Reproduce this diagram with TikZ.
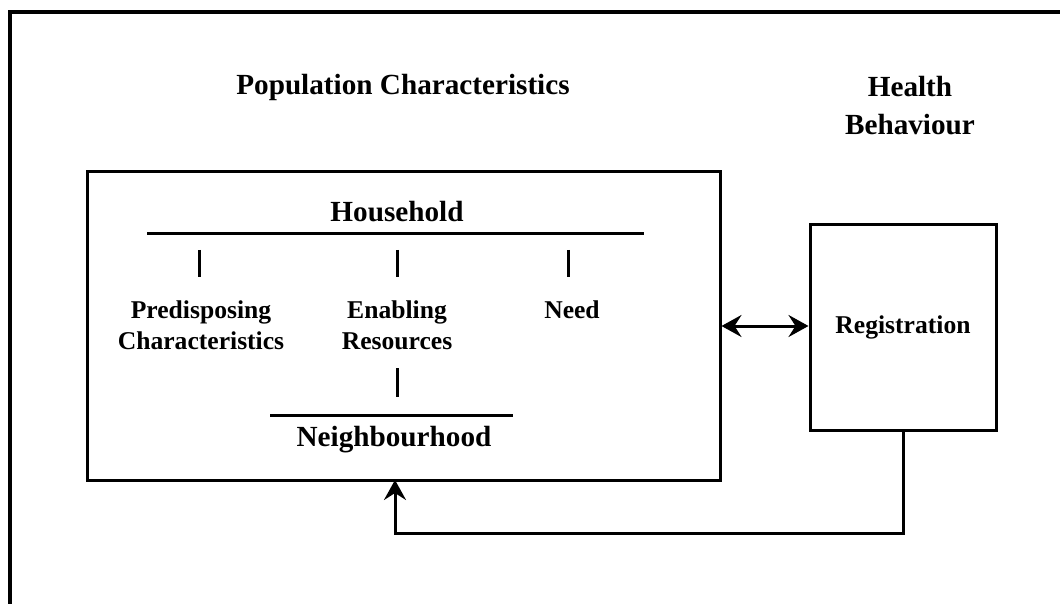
\documentclass[tikz,border=0pt]{standalone}
\usepackage{fontspec}
\setmainfont{Liberation Serif}
\usetikzlibrary{arrows.meta}
\begin{document}
\begin{tikzpicture}[x=0.5pt,y=-0.5pt,
  head/.style={font=\bfseries\fontsize{14.6}{17}\selectfont, inner sep=0pt},
  label/.style={font=\bfseries\fontsize{12.8}{15.5}\selectfont, align=center, inner sep=0pt},
  box/.style={draw, line width=1.5pt, rectangle, inner sep=0pt},
  rule/.style={line width=1.5pt},
  tip/.style={Stealth[length=10pt,width=11pt,inset=3.5pt]},
  arr/.style={line width=1.5pt, arrows={-Stealth[length=10pt,width=11pt,inset=3.5pt]}},
  darr/.style={line width=1.5pt, arrows={Stealth[length=10pt,width=11pt,inset=3.5pt]-Stealth[length=10pt,width=11pt,inset=3.5pt]}}]
  \useasboundingbox (0,0) rectangle (1060,604);
  \fill[white] (0,0) rectangle (1060,604);

  % outer frame (top and left edges)
  \draw[line width=2pt] (10,604) -- (10,12) -- (1060,12);

  % headings
  \node[head] (pop) at (403,87) {Population Characteristics};
  \node[head, align=center, font=\bfseries\fontsize{14.6}{19}\selectfont] (hb) at (910,106) {Health\\Behaviour};

  % boxes
  \node[box, minimum width=316.5pt, minimum height=154pt] (main) at (403.5,326) {};
  \node[box, minimum width=93pt, minimum height=102.5pt] (reg) at (903,327.5) {};
  \node[label] (regt) at (903,327) {Registration};

  % household level
  \node[head] (hh) at (397,212) {Household};
  \coordinate (hhL) at (147,234);
  \coordinate (hhR) at (644,234);
  \draw[rule] (hhL) -- (hhR);

  \coordinate (t1a) at (199,250); \coordinate (t1b) at (199,277);
  \coordinate (t2a) at (397,250); \coordinate (t2b) at (397,277);
  \coordinate (t3a) at (568,250); \coordinate (t3b) at (568,277);
  \draw[rule] (t1a) -- (t1b);
  \draw[rule] (t2a) -- (t2b);
  \draw[rule] (t3a) -- (t3b);

  \node[label] (pred) at (201,325) {Predisposing\\Characteristics};
  \node[label] (enab) at (397,325) {Enabling\\Resources};
  \node[label] (need) at (572,310) {Need};

  % neighbourhood level
  \coordinate (t4a) at (397,368); \coordinate (t4b) at (397,397);
  \draw[rule] (t4a) -- (t4b);
  \coordinate (nbL) at (270,415);
  \coordinate (nbR) at (513,415);
  \draw[rule] (nbL) -- (nbR);
  \node[head] (nb) at (394,440) {Neighbourhood};

  % connectors
  \draw[darr] (main.east) -- (main.east -| reg.west);
  \coordinate (fbin) at (395,480);
  \coordinate (fbc) at (395,533);
  \draw[arr] (reg.south) |- (fbc) -- (fbin);
\end{tikzpicture}
\end{document}
